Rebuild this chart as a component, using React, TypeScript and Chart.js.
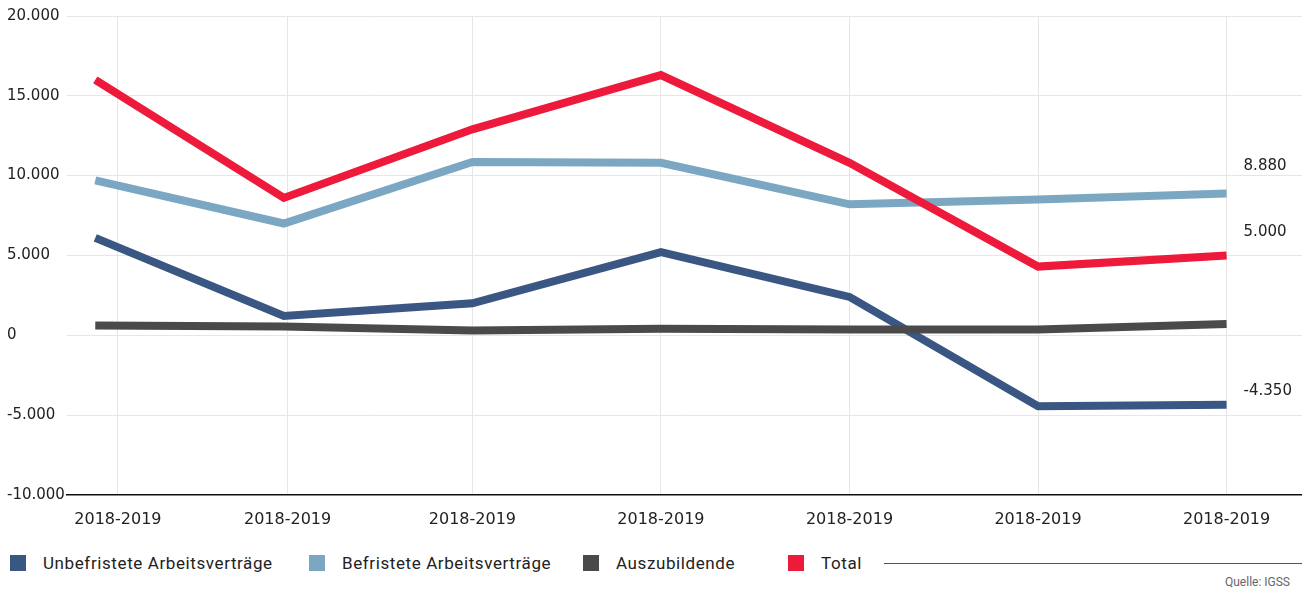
import React, { useEffect, useRef } from "react";
import { Chart, registerables } from "chart.js";

Chart.register(...registerables);

const categories = ["2018-2019", "2018-2019", "2018-2019", "2018-2019", "2018-2019", "2018-2019", "2018-2019"];
const unbefristete = [6100, 1200, 2000, 5200, 2400, -4450, -4350];
const befristete = [9700, 7000, 10850, 10800, 8200, 8500, 8880];
const auszubildende = [600, 550, 300, 400, 350, 350, 700];
const total = [16000, 8600, 12900, 16300, 10800, 4300, 5000];
const seriesNames = ["Unbefristete Arbeitsverträge", "Befristete Arbeitsverträge", "Auszubildende", "Total"];
const seriesColors = ["#3a5683", "#7ba7c2", "#4a4a4c", "#ee1a3b"];
const endLabelShown = [true, true, false, true];
const endLabelLift = [14, 27, 0, 23];
const tickPositions = [0.12, 1.02, 2, 3, 4, 5, 6];
const yTicks = [-10000, -5000, 0, 5000, 10000, 15000, 20000];
const legendLeft = [10, 309, 583, 788];

function fmt(n: number): string {
  const s = Math.abs(n).toString().replace(/\B(?=(\d{3})+(?!\d))/g, ".");
  return (n < 0 ? "-" : "") + s;
}

const AXIS_FONT = "'DejaVu Sans', sans-serif";
const LEGEND_FONT = "Roboto, sans-serif";

export default function App() {
  const ref = useRef<HTMLCanvasElement | null>(null);

  useEffect(() => {
    if (!ref.current) return;
    const seriesData = [unbefristete, befristete, auszubildende, total];
    const endLabels = {
      id: "endLabels",
      afterDatasetsDraw(chart: any) {
        const ctx = chart.ctx;
        ctx.save();
        ctx.font = "15px " + AXIS_FONT;
        ctx.fillStyle = "#222";
        ctx.textAlign = "left";
        ctx.textBaseline = "middle";
        chart.data.datasets.forEach((ds: any, i: number) => {
          if (!endLabelShown[i]) return;
          const meta = chart.getDatasetMeta(i);
          const last = meta.data[meta.data.length - 1];
          const v = ds.data[ds.data.length - 1].y;
          ctx.fillText(fmt(v), last.x + 17, last.y - endLabelLift[i]);
        });
        ctx.restore();
      },
    };
    const chart = new Chart(ref.current, {
      type: "line",
      data: {
        datasets: seriesData.map((arr, i) => ({
          label: seriesNames[i],
          data: arr.map((v, j) => ({ x: j, y: v })),
          borderColor: seriesColors[i],
          backgroundColor: seriesColors[i],
          borderWidth: 8,
          pointRadius: 0,
          borderCapStyle: "butt" as const,
          borderJoinStyle: "miter" as const,
          tension: 0,
          order: i === 2 ? 3 : 4 - i,
        })),
      },
      options: {
        animation: false,
        responsive: false,
        maintainAspectRatio: false,
        layout: { padding: { left: 7, right: 0, top: 16, bottom: 0 } },
        plugins: { legend: { display: false }, tooltip: { enabled: false } },
        scales: {
          x: {
            type: "linear",
            min: -0.15,
            max: 6.4,
            afterBuildTicks: (scale: any) => {
              scale.ticks = tickPositions.map((v) => ({ value: v }));
            },
            ticks: {
              autoSkip: false,
              maxRotation: 0,
              padding: 15,
              color: "#222",
              font: { family: AXIS_FONT, size: 16 },
              callback: (_v: any, idx: number) => categories[idx],
            },
            grid: { color: "#e6e6e6", lineWidth: 1, drawTicks: false },
            border: { display: true, color: "#111", width: 1.5 },
          },
          y: {
            type: "linear",
            min: -10000,
            max: 20000,
            afterBuildTicks: (scale: any) => {
              scale.ticks = yTicks.map((v) => ({ value: v }));
            },
            afterFit: (scale: any) => {
              scale.width = 60;
            },
            ticks: {
              crossAlign: "far",
              color: "#222",
              font: { family: AXIS_FONT, size: 15 },
              callback: (v: any) => fmt(Number(v)),
            },
            grid: { color: "#e6e6e6", lineWidth: 1, drawTicks: false },
            border: { display: false },
          },
        },
      },
      plugins: [endLabels],
    } as any);
    return () => chart.destroy();
  }, []);

  return (
    <div style={{ position: "absolute", left: 0, top: 0, width: 1302, height: 592, background: "#fff", overflow: "hidden" }}>
      <canvas ref={ref} width={1302} height={544} style={{ display: "block", width: 1302, height: 544 }} />
      {seriesNames.map((n, i) => (
        <div key={n} style={{ position: "absolute", left: legendLeft[i], top: 553, height: 20, display: "flex", alignItems: "center", fontFamily: LEGEND_FONT, fontSize: 17, letterSpacing: 0.6, color: "#222" }}>
          <span style={{ display: "inline-block", width: 16, height: 16, background: seriesColors[i], marginRight: 17 }} />
          <span style={{ whiteSpace: "nowrap" }}>{n}</span>
        </div>
      ))}
      <div style={{ position: "absolute", left: 884, right: 0, top: 563, height: 1, background: "#555" }} />
      <div style={{ position: "absolute", right: 12, top: 575, fontFamily: LEGEND_FONT, fontSize: 12, color: "#666" }}>Quelle: IGSS</div>
    </div>
  );
}
